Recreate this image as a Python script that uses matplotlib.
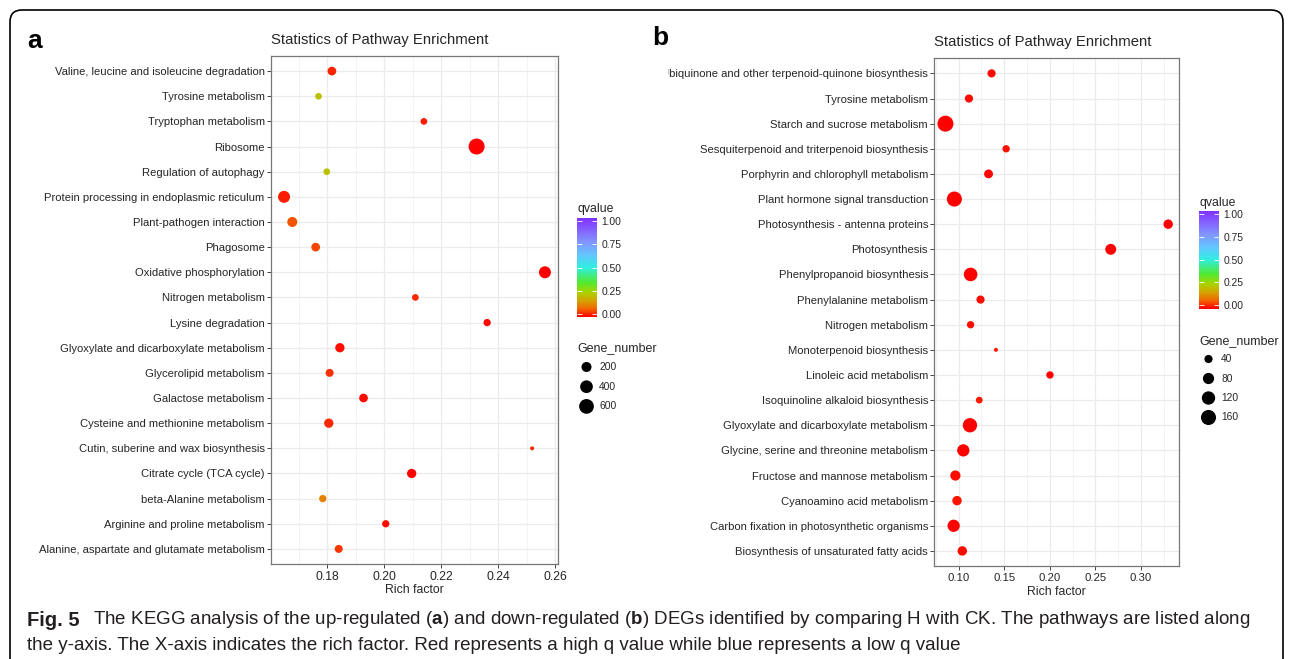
import numpy as np
import matplotlib
matplotlib.use('Agg')
import matplotlib.pyplot as plt
from matplotlib.colors import LinearSegmentedColormap, Normalize
from matplotlib.cm import ScalarMappable
from matplotlib.patches import FancyBboxPatch
from matplotlib.transforms import Bbox, TransformedBbox, IdentityTransform

plt.rcParams['font.family'] = ['Liberation Sans', 'DejaVu Sans']
plt.rcParams['mathtext.fontset'] = 'custom'
plt.rcParams['mathtext.rm'] = 'Liberation Sans'
plt.rcParams['mathtext.bf'] = 'Liberation Sans:bold'

# ---- panel a: up-regulated (top to bottom as shown) ----
pathways_a = ['Valine, leucine and isoleucine degradation', 'Tyrosine metabolism',
              'Tryptophan metabolism', 'Ribosome', 'Regulation of autophagy',
              'Protein processing in endoplasmic reticulum', 'Plant-pathogen interaction',
              'Phagosome', 'Oxidative phosphorylation', 'Nitrogen metabolism',
              'Lysine degradation', 'Glyoxylate and dicarboxylate metabolism',
              'Glycerolipid metabolism', 'Galactose metabolism',
              'Cysteine and methionine metabolism', 'Cutin, suberine and wax biosynthesis',
              'Citrate cycle (TCA cycle)', 'beta-Alanine metabolism',
              'Arginine and proline metabolism', 'Alanine, aspartate and glutamate metabolism']
rich_a = [0.1816, 0.1769, 0.2139, 0.2324, 0.1798, 0.1648, 0.1677, 0.1759, 0.2564, 0.2109,
          0.2361, 0.1844, 0.1808, 0.1927, 0.1805, 0.2519, 0.2096, 0.1784, 0.2005, 0.1840]
genes_a = [130, 55, 55, 746, 55, 340, 200, 130, 340, 55,
           73, 160, 99, 130, 160, 18, 160, 73, 73, 99]
q_a = [0.030, 0.220, 0.020, 0.000, 0.220, 0.025, 0.070, 0.055, 0.003, 0.035,
       0.005, 0.015, 0.040, 0.010, 0.035, 0.035, 0.003, 0.120, 0.010, 0.045]
xticks_a = [0.18, 0.20, 0.22, 0.24, 0.26]
gene_breaks_a = [200, 400, 600]

# ---- panel b: down-regulated ----
pathways_b = ['Ubiquinone and other terpenoid-quinone biosynthesis', 'Tyrosine metabolism',
              'Starch and sucrose metabolism', 'Sesquiterpenoid and triterpenoid biosynthesis',
              'Porphyrin and chlorophyll metabolism', 'Plant hormone signal transduction',
              'Photosynthesis - antenna proteins', 'Photosynthesis',
              'Phenylpropanoid biosynthesis', 'Phenylalanine metabolism',
              'Nitrogen metabolism', 'Monoterpenoid biosynthesis',
              'Linoleic acid metabolism', 'Isoquinoline alkaloid biosynthesis',
              'Glyoxylate and dicarboxylate metabolism',
              'Glycine, serine and threonine metabolism', 'Fructose and mannose metabolism',
              'Cyanoamino acid metabolism', 'Carbon fixation in photosynthetic organisms',
              'Biosynthesis of unsaturated fatty acids']
rich_b = [0.1361, 0.1113, 0.0855, 0.1521, 0.1328, 0.0953, 0.3299, 0.2669, 0.1131, 0.1240,
          0.1131, 0.1409, 0.2002, 0.1226, 0.1124, 0.1051, 0.0964, 0.0982, 0.0945, 0.1040]
genes_b = [40, 40, 185, 33, 47, 160, 54, 75, 126, 40,
           33, 20, 33, 29, 142, 98, 64, 54, 98, 54]
q_b = [0.005, 0.008, 0.000, 0.012, 0.006, 0.000, 0.001, 0.001, 0.000, 0.008,
       0.012, 0.020, 0.003, 0.020, 0.000, 0.001, 0.010, 0.018, 0.001, 0.008]
xticks_b = [0.10, 0.15, 0.20, 0.25, 0.30]
gene_breaks_b = [40, 80, 120, 160]

q_ticks = [0.0, 0.25, 0.5, 0.75, 1.0]

W, H, DPI = 1293, 659, 100
fig = plt.figure(figsize=(W / DPI, H / DPI), dpi=DPI)
fig.patch.set_facecolor('white')


def fx(px):
    return px / W


def fy(py):
    return 1 - py / H


qcmap = LinearSegmentedColormap.from_list('qv', [
    (0.00, '#FF0000'), (0.08, '#F26400'), (0.16, '#D6A000'), (0.25, '#A8D400'),
    (0.35, '#50EA30'), (0.50, '#30EEE0'), (0.62, '#60C8FF'), (0.75, '#8098FF'),
    (0.88, '#8462FF'), (1.00, '#8030FF')])

TXT = '#262626'


def diam(v, vmin, vmax):
    # ggplot-style area scale -> pixel diameter 4..16
    t = (np.asarray(v, float) - vmin) / (vmax - vmin)
    return 4 + 12 * np.sqrt(np.clip(t, 0, None))


def area(d_px):
    return (d_px * 72 / DPI) ** 2


def panel(left, top, right, bottom, names, rich, genes, q, xticks, step, xsize):
    ax = fig.add_axes([fx(left), fy(bottom), fx(right - left), (bottom - top) / H])
    y = np.arange(len(names))[::-1]
    ax.scatter(rich, y, s=area(diam(genes, min(genes), max(genes))), c=q, cmap=qcmap,
               vmin=0, vmax=1, linewidths=0, zorder=3)
    lo, hi = min(rich), max(rich)
    pad = (hi - lo) * 0.05
    ax.set_xlim(lo - pad, hi + pad)
    ax.set_ylim(-0.6, len(names) - 0.4)
    ax.set_yticks(y)
    ax.set_yticklabels(names)
    ax.set_xticks(xticks)
    ax.set_xticklabels([f'{t:.2f}' for t in xticks])
    minors = np.arange(xticks[0] - step / 2, hi + pad, step)
    ax.set_xticks(minors, minor=True)
    ax.grid(which='major', color='#EBEBEB', lw=0.9)
    ax.grid(which='minor', axis='x', color='#EFEFEF', lw=0.5)
    ax.set_axisbelow(True)
    ax.tick_params(which='major', length=3, width=0.7, color='#444444',
                   labelcolor=TXT, pad=1.5)
    ax.tick_params(axis='y', labelsize=8.15)
    ax.tick_params(axis='x', labelsize=xsize, pad=2)
    ax.tick_params(which='minor', length=0)
    for sp in ax.spines.values():
        sp.set_color('#777777')
        sp.set_linewidth(0.9)
    fig.text(fx(left), fy(top - 16), 'Statistics of Pathway Enrichment', fontsize=10.7,
             color=TXT, ha='left', va='center')
    fig.text(fx((left + right) / 2), fy(bottom + 26), 'Rich factor', fontsize=8.8,
             color=TXT, ha='center', va='center')
    return ax


def legends(x0, bar_top, bar_bot, q_title_y, g_title_y, row0, gap, breaks, genes):
    fig.text(fx(x0), fy(q_title_y), 'qvalue', fontsize=8.8, color=TXT, ha='left', va='center')
    cax = fig.add_axes([fx(x0), fy(bar_bot), fx(20), (bar_bot - bar_top) / H])
    cb = fig.colorbar(ScalarMappable(norm=Normalize(-0.035, 1.035), cmap=qcmap), cax=cax)
    cb.outline.set_visible(False)
    cb.set_ticks(q_ticks)
    cb.set_ticklabels([f'{t:.2f}' for t in q_ticks])
    cax.tick_params(direction='in', color='white', length=3.5, width=0.6,
                    labelsize=7.4, labelcolor=TXT, pad=3, left=True, right=True)
    fig.text(fx(x0), fy(g_title_y), 'Gene_number', fontsize=9.0, color=TXT,
             ha='left', va='center')
    lax = fig.add_axes([fx(x0), fy(row0 + gap * len(breaks)), fx(60), gap * (len(breaks) + 1) / H])
    lax.set_xlim(0, 60)
    lax.set_ylim(gap * (len(breaks) + 1) - gap, -gap)
    lax.axis('off')
    rows = np.arange(len(breaks)) * gap
    lax.scatter(np.full(len(breaks), 9.5), rows, s=area(diam(breaks, min(genes), max(genes))),
                c='black', linewidths=0)
    for r, b in zip(rows, breaks):
        lax.text(22, r, str(b), fontsize=7.4, color=TXT, ha='left', va='center')


ax_a = panel(271, 56, 558, 564, pathways_a, rich_a, genes_a, q_a, xticks_a, 0.02, 8.8)
legends(577, 218, 317, 209, 348, 367, 19.7, gene_breaks_a, genes_a)

ax_b = panel(934.3, 58.3, 1179.3, 566, pathways_b, rich_b, genes_b, q_b, xticks_b, 0.05, 8.2)
legends(1199, 210.5, 308.5, 203, 341, 359, 19.5, gene_breaks_b, genes_b)

# the first label of panel b is cut by the edge of the original image
lab = ax_b.get_yticklabels()[0]
lab.set_clip_on(True)
lab.set_clip_box(TransformedBbox(Bbox.from_extents(fx(668), 0, 1, 1), fig.transFigure))

fig.text(fx(27), fy(41), 'a', fontsize=19, fontweight='bold', ha='left', va='center')
fig.text(fx(652), fy(38), 'b', fontsize=19, fontweight='bold', ha='left', va='center')

# rounded frame around the figure
frame = FancyBboxPatch((10, -40), W - 20, H - 10 + 40,
                       boxstyle='round,pad=0,rounding_size=12', transform=IdentityTransform(),
                       fill=False, ec='black', lw=1.2)
fig.add_artist(frame)

cap_kw = dict(fontsize=13.5, color='#231F20', va='center', ha='left')
fig.text(fx(27), fy(620), 'Fig. 5', fontweight='bold',
         **{**cap_kw, 'fontsize': 14.5})
fig.text(fx(93), fy(620), r'The KEGG analysis of the up-regulated ($\mathbf{a}$) and '
         r'down-regulated ($\mathbf{b}$) DEGs identified by comparing H with CK. '
         r'The pathways are listed along', **cap_kw)
fig.text(fx(27), fy(646), 'the y-axis. The X-axis indicates the rich factor. Red represents '
         'a high q value while blue represents a low q value', **cap_kw)

fig.savefig('out.png', dpi=DPI)
